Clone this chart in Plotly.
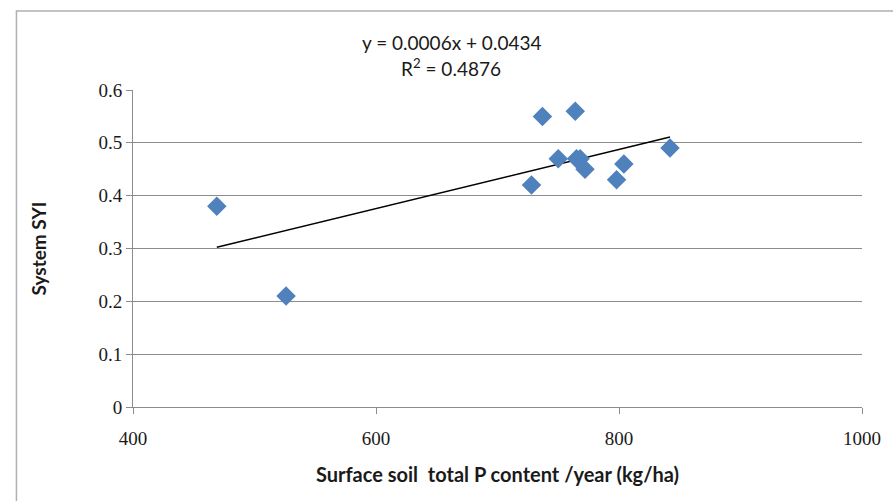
import numpy as np
import plotly.graph_objects as go

p_content = [469, 526, 728, 737, 750, 764, 765, 768, 772, 798, 804, 842]
syi = [0.38, 0.21, 0.42, 0.55, 0.47, 0.56, 0.47, 0.47, 0.45, 0.43, 0.46, 0.49]
x_ticks = [400, 600, 800, 1000]
y_ticks = [0, 0.1, 0.2, 0.3, 0.4, 0.5, 0.6]
y_tick_labels = ["0", "0.1", "0.2", "0.3", "0.4", "0.5", "0.6"]

slope, intercept = np.polyfit(p_content, syi, 1)
xl = np.array([min(p_content), max(p_content)])
yl = slope * xl + intercept

fig = go.Figure()
fig.add_trace(go.Scatter(x=xl, y=yl, mode="lines",
                         line=dict(color="black", width=1.5), hoverinfo="skip"))
fig.add_trace(go.Scatter(x=p_content, y=syi, mode="markers",
                         marker=dict(symbol="diamond", size=15, color="#4F81BD",
                                     line=dict(width=0))))

tickfont = dict(family="Liberation Serif, serif", size=19, color="#1a1a1a")
fig.update_layout(
    width=893, height=501,
    margin=dict(l=133, r=22, t=90, b=94),
    plot_bgcolor="white", paper_bgcolor="white",
    showlegend=False,
    xaxis=dict(range=[400, 1000], tickvals=x_ticks, showgrid=False,
               showline=True, linecolor="#8c8c8c", linewidth=1,
               ticks="outside", ticklen=6, tickcolor="#8c8c8c",
               ticklabelstandoff=8, ticklabeloverflow="allow",
               tickfont=tickfont, zeroline=False,
               title=dict(text="<b>Surface soil  total P content /year (kg/ha)</b>",
                          font=dict(family="Lato", size=20, color="#1a1a1a"),
                          standoff=20)),
    yaxis=dict(range=[0, 0.6], tickvals=y_ticks, ticktext=y_tick_labels,
               showgrid=True, gridcolor="#8c8c8c", gridwidth=1,
               showline=True, linecolor="#8c8c8c", linewidth=1,
               ticks="outside", ticklen=6, tickcolor="#8c8c8c",
               tickfont=tickfont, zeroline=False,
               title=dict(text="<b>System SYI</b>",
                          font=dict(family="Lato", size=19, color="#1a1a1a"),
                          standoff=46)),
    shapes=[dict(type="rect", xref="paper", yref="paper",
                 x0=-(133 - 15) / 738, x1=1.2, y0=-(94 + 10) / 317, y1=(317 + 90 - 11) / 317,
                 line=dict(color="#b0b0b0", width=1.5), fillcolor="rgba(0,0,0,0)")],
    annotations=[
        dict(text="y = 0.0006x + 0.0434", xref="paper", yref="paper",
             x=(455 - 133) / 738, y=(407 - 42) / 317, yanchor="middle",
             showarrow=False, font=dict(family="Lato", size=19, color="#1a1a1a")),
        dict(text="R<sup>2</sup> = 0.4876", xref="paper", yref="paper",
             x=(455 - 133) / 738, y=(407 - 67) / 317, yanchor="middle",
             showarrow=False, font=dict(family="Lato", size=19, color="#1a1a1a")),
    ],
)
fig.write_html("out.html")
